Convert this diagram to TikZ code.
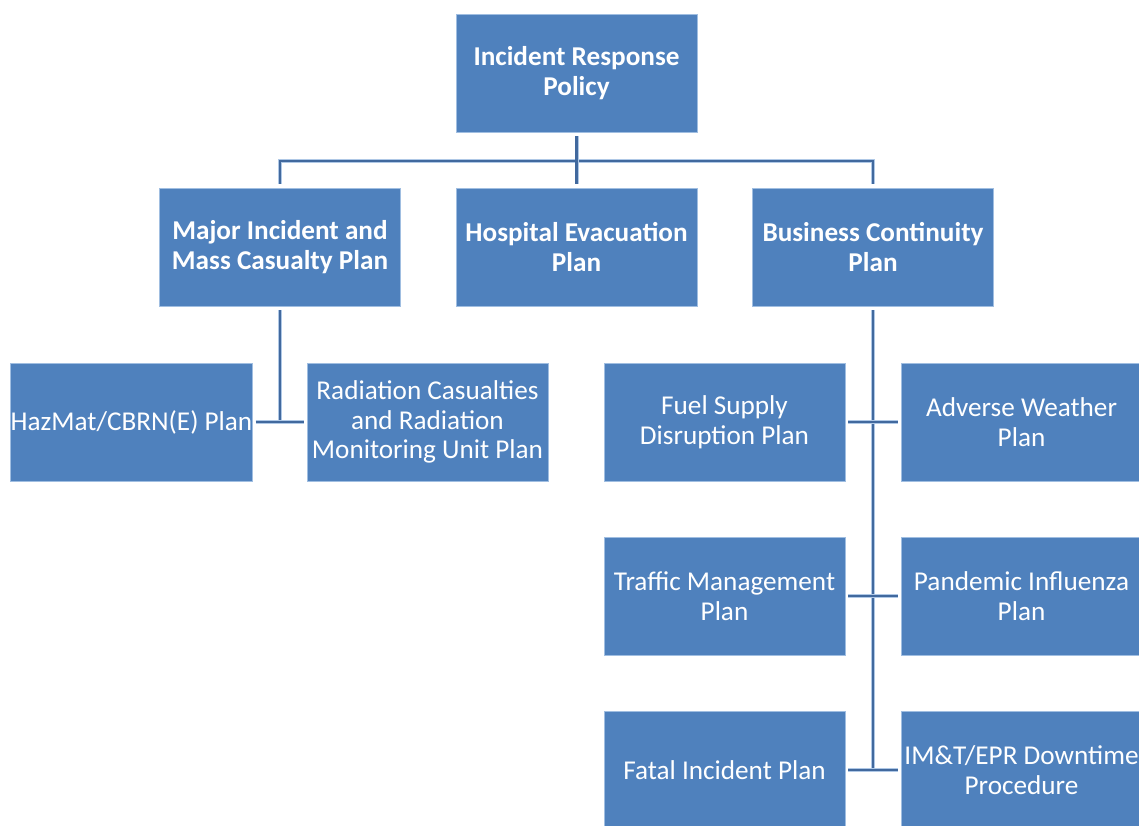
\documentclass[tikz,border=0pt]{standalone}
\usepackage{fontspec}
\setmainfont{Carlito}
\usepackage{tikz}
\usetikzlibrary{positioning, calc}
\definecolor{planblue}{RGB}{79, 129, 189}
\definecolor{planedge}{RGB}{160, 190, 225}
\definecolor{linkblue}{RGB}{65, 105, 158}
\definecolor{linkglow}{RGB}{175, 200, 230}

\begin{document}
\begin{tikzpicture}[x=1pt, y=-1pt,
    plan/.style={draw=planedge, line width=0.8pt, fill=planblue, text=white,
      minimum width=241pt, minimum height=118pt, align=center, inner sep=0pt,
      font=\fontsize{27.2}{29.5}\selectfont},
    headplan/.style={plan, font=\fontsize{27.2}{29.5}\selectfont\bfseries},
    link/.style={draw=linkblue, line width=2.6pt,
      preaction={draw=linkglow, line width=4pt}}]
  \useasboundingbox (0,0) rectangle (1139,826);

  % Top of the tree
  \node[headplan] (policy) at (576.5, 73) {Incident Response\\Policy};

  % Second level
  \node[headplan] (major) at (280, 247) {Major Incident and\\Mass Casualty Plan};
  \node[headplan] (hospital) at (576.5, 247) {Hospital Evacuation\\Plan};
  \node[headplan] (business) at (873, 247) {Business Continuity\\Plan};

  % Plans under the major incident plan
  \node[plan] (hazmat) at (131.5, 422) {HazMat/CBRN(E) Plan};
  \node[plan] (radiation) at (427.5, 422) {Radiation Casualties\\and Radiation\\Monitoring Unit Plan};

  % Plans under business continuity
  \node[plan] (fuel) at (724.5, 422) {Fuel Supply\\Disruption Plan};
  \node[plan] (adverse) at (1021.5, 422) {Adverse Weather\\Plan};
  \node[plan] (traffic) at (724.5, 596) {Traffic Management\\Plan};
  \node[plan] (pandemic) at (1021.5, 596) {Pandemic Influenza\\Plan};
  \node[plan] (fatal) at (724.5, 770) {Fatal Incident Plan};
  \node[plan] (imt) at (1021.5, 770) {IM\&T/EPR Downtime\\Procedure};

  % Connectors
  \coordinate (hub) at (576.5, 161);
  \draw[link] ([yshift=4pt]major.north) |- (hub) -| ([yshift=4pt]business.north);
  \draw[link] ([yshift=-4pt]policy.south) -- ([yshift=4pt]hospital.north);

  \draw[link] ([yshift=-4pt]major.south) -- (major.south |- hazmat.east);
  \draw[link] ([xshift=3pt]hazmat.east) -- ([xshift=-3pt]radiation.west);

  \draw[link] ([yshift=-4pt]business.south) -- (business.south |- fatal.east);
  \draw[link] ([xshift=3pt]fuel.east) -- ([xshift=-3pt]adverse.west);
  \draw[link] ([xshift=3pt]traffic.east) -- ([xshift=-3pt]pandemic.west);
  \draw[link] ([xshift=3pt]fatal.east) -- ([xshift=-3pt]imt.west);
\end{tikzpicture}
\end{document}
